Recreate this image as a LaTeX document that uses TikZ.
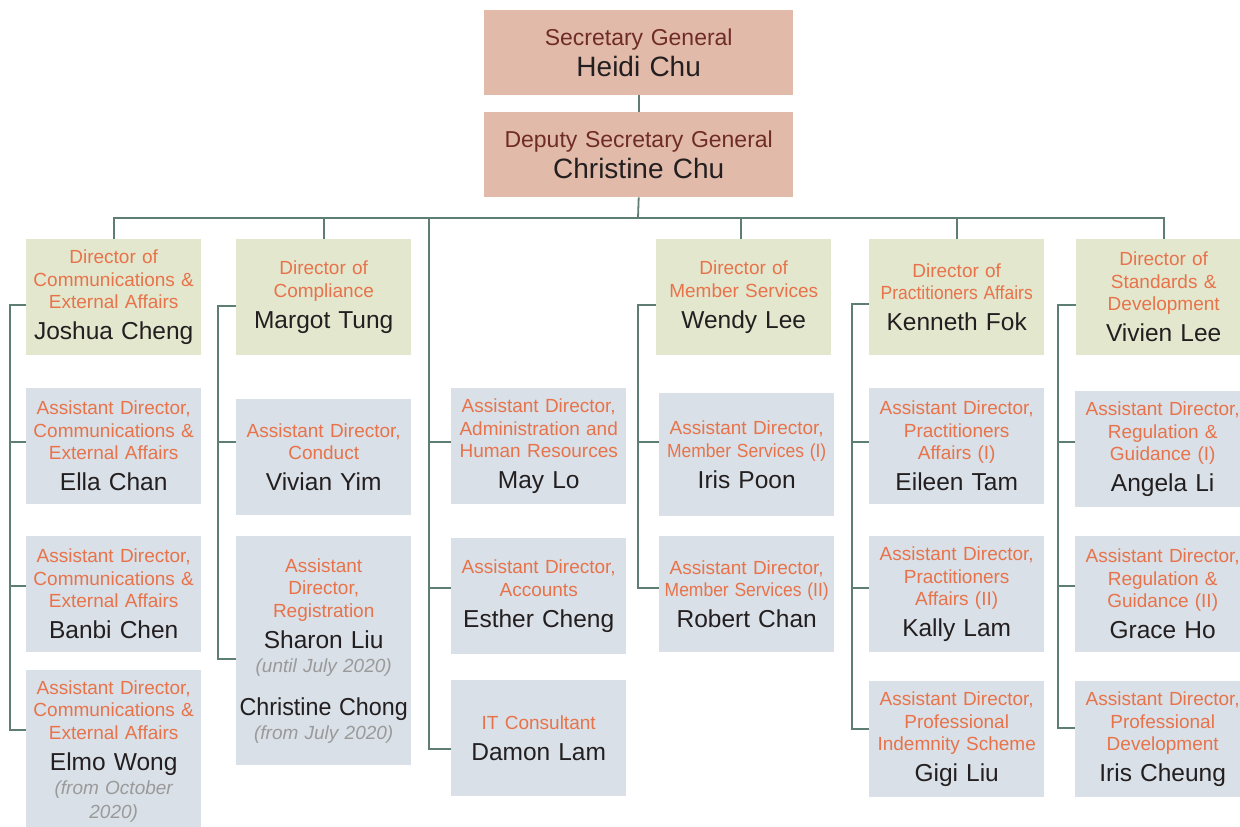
\documentclass[tikz,border=0pt]{standalone}
\usepackage{fontspec}
\setmainfont{Liberation Sans}
\usepackage{graphicx}
\definecolor{pinkf}{HTML}{E2BAAA}
\definecolor{olivef}{HTML}{E3E7CE}
\definecolor{bluef}{HTML}{D9E0E7}
\definecolor{orng}{HTML}{E8734A}
\definecolor{ink}{HTML}{231F20}
\definecolor{redtx}{HTML}{6F2C26}
\definecolor{gry}{HTML}{9A9A9A}
\definecolor{linec}{HTML}{5E7D73}
\newcommand\wsp{\spaceskip=0.33em\relax}
\newcommand\ot{\fontsize{19}{22.5}\selectfont\wsp\color{orng}}
\newcommand\nmf{\fontsize{24.5}{31}\selectfont\wsp\color{ink}}
\newcommand\gif{\fontsize{19}{24}\selectfont\itshape\wsp\color{gry}}
\newcommand\toptl{\fontsize{23}{27}\selectfont\wsp\color{redtx}}
\newcommand\topnm{\fontsize{28}{31}\selectfont\wsp\color{ink}}
\newcommand\sq[1]{\scalebox{0.92}[1]{#1}}
\tikzset{
  conn/.style={draw=linec, line width=1.8pt},
  basebox/.style={rectangle, inner sep=0pt, align=center, anchor=north west, text width=175pt, minimum height=116pt},
  topbox/.style={basebox, fill=pinkf, text width=309pt, minimum height=85pt},
  dirbox/.style={basebox, fill=olivef},
  asbox/.style={basebox, fill=bluef}
}
\begin{document}
\begin{tikzpicture}[x=1pt,y=-1pt]
\useasboundingbox (0,0) rectangle (1240,827);
\clip (0,0) rectangle (1240,827);
% top
\node[topbox] (sg) at (484,10) {{\toptl Secretary General\par}{\topnm Heidi Chu\par}};
\node[topbox] (dsg) at (484,112) {{\toptl Deputy Secretary General\par}{\topnm Christine Chu\par}};
% directors
\node[dirbox] (dir1) at (26,239) {{\ot Director of\\Communications \&\\External Affairs\par}{\nmf Joshua Cheng\par}};
\node[dirbox] (dir2) at (236,239) {{\ot Director of\\Compliance\par}{\nmf Margot Tung\par}};
\node[dirbox] (dir4) at (656,239) {{\ot Director of\\Member Services\par}{\nmf Wendy Lee\par}};
\node[dirbox] (dir5) at (869,239) {{\ot Director of\\\sq{Practitioners Affairs}\par}{\nmf Kenneth Fok\par}};
\node[dirbox] (dir6) at (1076,239) {{\ot Director of\\Standards \&\\Development\par}{\nmf Vivien Lee\par}};
% column 1
\node[asbox] (ella) at (26,388) {{\ot Assistant Director,\\Communications \&\\External Affairs\par}{\nmf Ella Chan\par}};
\node[asbox] (banbi) at (26,536) {{\ot Assistant Director,\\Communications \&\\External Affairs\par}{\nmf Banbi Chen\par}};
\node[asbox, minimum height=162pt] (elmo) at (26,670) {{\ot Assistant Director,\\Communications \&\\External Affairs\par}{\nmf Elmo Wong\par}{\gif (from October\\2020)\par}};
% column 2
\node[asbox] (vivian) at (236,399) {{\ot Assistant Director,\\Conduct\par}{\nmf Vivian Yim\par}};
\node[asbox, minimum height=229pt] (sharon) at (236,536) {{\ot Assistant\\Director,\\Registration\par}{\nmf Sharon Liu\par}{\gif (until July 2020)\par}\vspace{12pt}{\nmf \scalebox{0.95}[1]{Christine Chong}\par}{\gif (from July 2020)\par}};
% column 3
\node[asbox] (may) at (451,388) {{\ot Assistant Director,\\Administration and\\Human Resources\par}{\nmf May Lo\par}};
\node[asbox] (esther) at (451,538) {{\ot Assistant Director,\\Accounts\par}{\nmf Esther Cheng\par}};
\node[asbox] (damon) at (451,680) {{\ot IT Consultant\par}{\nmf Damon Lam\par}};
% column 4
\node[asbox, minimum height=123pt] (irisp) at (659,393) {{\ot Assistant Director,\\\sq{Member Services (I)}\par}{\nmf Iris Poon\par}};
\node[asbox] (robert) at (659,536) {{\ot Assistant Director,\\\sq{Member Services (II)}\par}{\nmf Robert Chan\par}};
% column 5
\node[asbox] (eileen) at (869,388) {{\ot Assistant Director,\\Practitioners\\Affairs (I)\par}{\nmf Eileen Tam\par}};
\node[asbox] (kally) at (869,536) {{\ot Assistant Director,\\Practitioners\\Affairs (II)\par}{\nmf Kally Lam\par}};
\node[asbox] (gigi) at (869,681) {{\ot Assistant Director,\\Professional\\Indemnity Scheme\par}{\nmf Gigi Liu\par}};
% column 6
\node[asbox] (angela) at (1075,391) {{\ot Assistant Director,\\Regulation \&\\Guidance (I)\par}{\nmf Angela Li\par}};
\node[asbox] (grace) at (1075,536) {{\ot Assistant Director,\\Regulation \&\\Guidance (II)\par}{\nmf Grace Ho\par}};
\node[asbox] (irisc) at (1075,681) {{\ot Assistant Director,\\Professional\\Development\par}{\nmf Iris Cheung\par}};
% connectors top
\coordinate (busy) at (638,218);
\coordinate (bus3) at (429,218);
\draw[conn] (sg.south) -- (dsg.north);
\draw[conn] (dsg.south) -- (busy);
\draw[conn] (dir1.north) -- (dir1.north |- busy) -- (dir6.north |- busy) -- (dir6.north);
\draw[conn] (dir2.north) -- (dir2.north |- busy);
\draw[conn] ([xshift=-2.5pt]dir4.north) -- ([xshift=-2.5pt]dir4.north |- busy);
\draw[conn] (dir5.north) -- (dir5.north |- busy);
% column 1
\draw[conn] ([yshift=-8pt]dir1.west) -- ++(-16,0) |- ([yshift=21pt]elmo.west);
\draw[conn] ([yshift=4pt]ella.west) -- ++(-16,0);
\draw[conn] ([yshift=8pt]banbi.west) -- ++(-16,0);
% column 2
\draw[conn] ([yshift=-9pt]dir2.west) -- ++(-18,0) |- ([yshift=-8.5pt]sharon.west);
\draw[conn] ([yshift=15pt]vivian.west) -- ++(-18,0);
% column 3
\draw[conn] (bus3) |- ([yshift=-11pt]damon.west);
\draw[conn] ([yshift=4pt]may.west) -- ++(-22,0);
\draw[conn] ([yshift=8pt]esther.west) -- ++(-22,0);
% column 4
\draw[conn] ([yshift=-8pt]dir4.west) -- ++(-18,0) |- ([yshift=6pt]robert.west);
\draw[conn] ([yshift=12.5pt]irisp.west) -- ++(-21,0);
% column 5
\draw[conn] ([yshift=-7pt]dir5.west) -- ++(-17,0) |- ([yshift=10pt]gigi.west);
\draw[conn] ([yshift=4pt]eileen.west) -- ++(-17,0);
\draw[conn] ([yshift=6pt]kally.west) -- ++(-17,0);
% column 6
\draw[conn] ([yshift=-8pt]dir6.west) -- ++(-18,0) |- ([yshift=11pt]irisc.west);
\draw[conn] ([yshift=7pt]angela.west) -- ++(-17,0);
\draw[conn] ([yshift=8pt]grace.west) -- ++(-17,0);
\end{tikzpicture}
\end{document}
